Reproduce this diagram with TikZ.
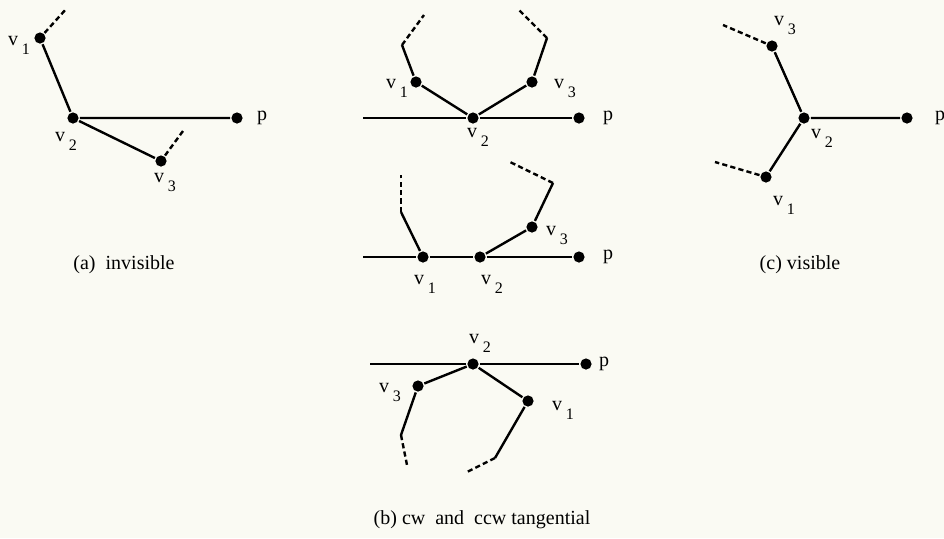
\documentclass[tikz,border=0pt]{standalone}
\usepackage{fontspec}
\setmainfont{Liberation Serif}
\newcommand{\vlab}[1]{v\hspace{1.8pt}\raisebox{-4.5pt}{\footnotesize #1}}
\definecolor{paper}{RGB}{250,250,243}

\begin{document}
\begin{tikzpicture} [x = 0.5pt, y = -0.5pt, line width = 1.2pt,
	pt/.style = {circle, fill = black, inner sep = 0pt, minimum size = 5.6pt},
	lbl/.style = {inner sep = 0pt},
	hidden/.style = {dash pattern = on 2.6pt off 1.6pt}]
	\useasboundingbox [fill = paper] (0,0) rectangle (944,538);
	% (a) invisible
	\node [pt] (a1) at (40,38) {};
	\node [pt] (a2) at (73,118) {};
	\node [pt] (a3) at (161,161) {};
	\node [pt] (ap) at (237,118) {};
	\coordinate (a1e) at (67,8);
	\coordinate (a3e) at (183,131);
	\draw (a1) -- (a2) -- (ap);
	\draw (a2) -- (a3);
	\draw [hidden] (a1) -- (a1e);
	\draw [hidden] (a3) -- (a3e);
	\node [lbl] (a1l) at (19,45) {\vlab{1}};
	\node [lbl] (a2l) at (66,141) {\vlab{2}};
	\node [lbl] (a3l) at (165,182) {\vlab{3}};
	\node [lbl] (apl) at (262,118) {p};
	\node (acap) at (124,265) {(a)~ invisible};
	% (b) top
	\node [pt] (b1) at (416,82) {};
	\node [pt] (b2) at (473,118) {};
	\node [pt] (b3) at (532,82) {};
	\node [pt] (bp) at (579,118) {};
	\coordinate (bl) at (363,118);
	\coordinate (b1k) at (402,45);
	\coordinate (b1e) at (424,15);
	\coordinate (b3k) at (547,38);
	\coordinate (b3e) at (518,9);
	\draw (bl) -- (b2) -- (bp);
	\draw (b1k) -- (b1) -- (b2) -- (b3) -- (b3k);
	\draw [hidden] (b1k) -- (b1e);
	\draw [hidden] (b3k) -- (b3e);
	\node [lbl] (b1l) at (397,88) {\vlab{1}};
	\node [lbl] (b2l) at (478,137) {\vlab{2}};
	\node [lbl] (b3l) at (565,88) {\vlab{3}};
	\node [lbl] (bpl) at (608,118) {p};
	% (b) middle
	\node [pt] (c1) at (423,257) {};
	\node [pt] (c2) at (480,257) {};
	\node [pt] (c3) at (532,227) {};
	\node [pt] (cp) at (579,257) {};
	\coordinate (cl) at (363,257);
	\coordinate (c1k) at (401,212);
	\coordinate (c1e) at (401,175);
	\coordinate (c3k) at (553,183);
	\coordinate (c3e) at (510,162);
	\draw (cl) -- (c1) -- (c2) -- (cp);
	\draw (c1k) -- (c1);
	\draw (c2) -- (c3) -- (c3k);
	\draw [hidden] (c1k) -- (c1e);
	\draw [hidden] (c3k) -- (c3e);
	\node [lbl] (c1l) at (425,284) {\vlab{1}};
	\node [lbl] (c2l) at (492,284) {\vlab{2}};
	\node [lbl] (c3l) at (557,235) {\vlab{3}};
	\node [lbl] (cpl) at (608,257) {p};
	% (b) bottom
	\node [pt] (d1) at (528,401) {};
	\node [pt] (d2) at (473,364) {};
	\node [pt] (d3) at (418,386) {};
	\node [pt] (dp) at (586,364) {};
	\coordinate (dl) at (370,364);
	\coordinate (d1k) at (495,458);
	\coordinate (d1e) at (467,472);
	\coordinate (d3k) at (401,435);
	\coordinate (d3e) at (407,465);
	\draw (dl) -- (d2) -- (dp);
	\draw (d3k) -- (d3) -- (d2) -- (d1) -- (d1k);
	\draw [hidden] (d1k) -- (d1e);
	\draw [hidden] (d3k) -- (d3e);
	\node [lbl] (d1l) at (563,410) {\vlab{1}};
	\node [lbl] (d2l) at (480,343) {\vlab{2}};
	\node [lbl] (d3l) at (390,392) {\vlab{3}};
	\node [lbl] (dpl) at (604,364) {p};
	\node (bcap) at (482,520) {(b) cw~ and~ ccw tangential};
	% (c) visible
	\node [pt] (e1) at (766,177) {};
	\node [pt] (e2) at (804,118) {};
	\node [pt] (e3) at (772,46) {};
	\node [pt] (ep) at (907,118) {};
	\coordinate (e1e) at (715,162);
	\coordinate (e3e) at (723,25);
	\draw (e3) -- (e2) -- (ep);
	\draw (e2) -- (e1);
	\draw [hidden] (e1) -- (e1e);
	\draw [hidden] (e3) -- (e3e);
	\node [lbl] (e1l) at (784,205) {\vlab{1}};
	\node [lbl] (e2l) at (822,138) {\vlab{2}};
	\node [lbl] (e3l) at (785,25) {\vlab{3}};
	\node [lbl] (epl) at (940,118) {p};
	\node (ccap) at (800,265) {(c) visible};
\end{tikzpicture}
\end{document}
